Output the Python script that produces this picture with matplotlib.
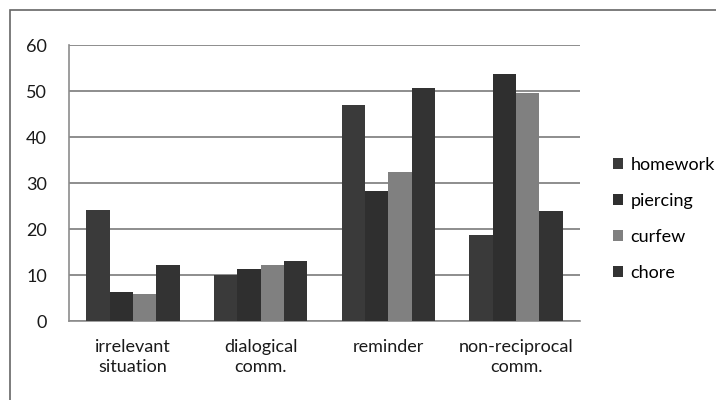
import matplotlib.pyplot as plt
import numpy as np
from matplotlib.patches import Rectangle

categories = ["irrelevant\nsituation", "dialogical\ncomm.", "reminder", "non-reciprocal\ncomm."]
series = ["homework", "piercing", "curfew", "chore"]
homework = [24.1, 10.0, 46.9, 18.6]
piercing = [6.4, 11.3, 28.3, 53.8]
curfew = [5.8, 12.1, 32.4, 49.6]
chore = [12.1, 13.0, 50.7, 23.9]
yticks = [0, 10, 20, 30, 40, 50, 60]

colors = ["#3a3a3a", "#2f2f2f", "#808080", "#333333"]

plt.rcParams["font.family"] = ["Lato", "DejaVu Sans"]

fig = plt.figure(figsize=(7.16, 4.0), dpi=100)
ax = fig.add_axes([69 / 716, 79 / 400, 511 / 716, 276 / 400])

x = np.arange(len(categories))
width = 0.73 / 4
for i, (name, vals) in enumerate(zip(series, [homework, piercing, curfew, chore])):
    ax.bar(x + (i - 1.5) * width, vals, width, color=colors[i], label=name, zorder=3)

ax.set_xlim(-0.5, len(categories) - 0.5)
ax.set_ylim(0, 60)
ax.set_yticks(yticks)
ax.yaxis.grid(True, color="#7a7a7a", linewidth=1.2, zorder=0)
ax.set_xticks(x)
ax.set_xticklabels(categories, fontsize=13, color="#1a1a1a", linespacing=1.3)
ax.tick_params(axis="both", length=0, labelsize=13, labelcolor="#1a1a1a")
ax.tick_params(axis="y", pad=16)
ax.tick_params(axis="x", pad=13)
for side in ["top", "right"]:
    ax.spines[side].set_visible(False)
for side in ["left", "bottom"]:
    ax.spines[side].set_color("#8c8c8c")
    ax.spines[side].set_linewidth(1.2)

leg = fig.legend(
    loc="upper left",
    bbox_to_anchor=(597 / 716, (400 - 141) / 400),
    frameon=False,
    fontsize=13,
    handlelength=0.55,
    handleheight=0.55,
    handletextpad=0.4,
    labelspacing=1.1,
)

# light frame around the chart area
fig.patches.append(
    Rectangle((10 / 716, -0.02), 1.0, 390 / 400 + 0.02, transform=fig.transFigure,
              fill=False, edgecolor="#666666", linewidth=1.2)
)

fig.savefig("out.png", dpi=100, facecolor="white")
